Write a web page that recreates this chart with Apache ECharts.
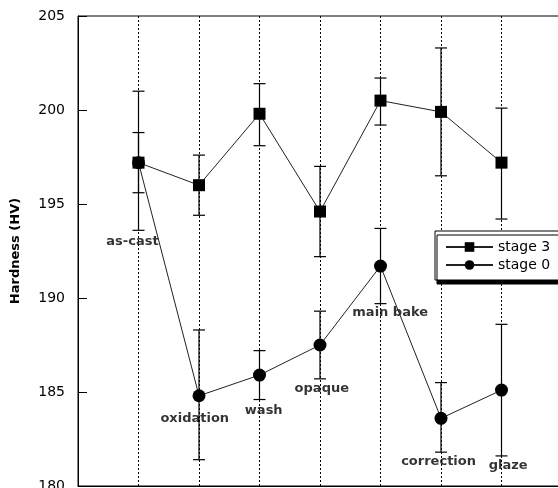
<!DOCTYPE html>
<html>
<head>
<meta charset="utf-8">
<script src="https://cdn.jsdelivr.net/npm/echarts@6/dist/echarts.min.js"></script>
<style>html,body{margin:0;padding:0;background:#fff;}#c{width:558px;height:488px;}</style>
</head>
<body>
<div id="c"></div>
<script>
const categories = ['as-cast', 'oxidation', 'wash', 'opaque', 'main bake', 'correction', 'glaze'];
const stage3 = [197.2, 196.0, 199.8, 194.6, 200.5, 199.9, 197.2];
const stage3Err = [[195.6, 198.8], [194.4, 197.6], [198.1, 201.4], [192.2, 197.0], [199.2, 201.7], [196.5, 203.3], [194.2, 200.1]];
const stage0 = [197.2, 184.8, 185.9, 187.5, 191.7, 183.6, 185.1];
const stage0Err = [[193.6, 201.0], [181.4, 188.3], [184.6, 187.2], [185.7, 189.3], [189.7, 193.7], [181.8, 185.5], [181.6, 188.6]];
const labelX = [0.90, 1.93, 3.07, 4.03, 5.16, 5.96, 7.11];
const labelY = [193.0, 183.6, 184.0, 185.2, 189.2, 181.3, 181.1];
const yTicks = [180, 185, 190, 195, 200, 205];

const FONT = 'DejaVu Sans';
const chart = echarts.init(document.getElementById('c'));

function errRender(params, api) {
  const x = api.value(0), lo = api.value(1), hi = api.value(2);
  const a = api.coord([x, hi]), b = api.coord([x, lo]);
  const w = 6;
  const st = { stroke: '#000', lineWidth: 1.2 };
  return {
    type: 'group',
    children: [
      { type: 'line', shape: { x1: a[0], y1: a[1], x2: b[0], y2: b[1] }, style: st },
      { type: 'line', shape: { x1: a[0] - w, y1: a[1], x2: a[0] + w, y2: a[1] }, style: st },
      { type: 'line', shape: { x1: b[0] - w, y1: b[1], x2: b[0] + w, y2: b[1] }, style: st }
    ]
  };
}

const option = {
  animation: false,
  backgroundColor: '#fff',
  grid: {
    left: 78, top: 16, width: 484, height: 470,
    outerBoundsMode: 'none', containLabel: false,
    show: true, borderColor: '#000', borderWidth: 1, backgroundColor: 'transparent'
  },
  xAxis: {
    type: 'value', min: 0, max: 8, interval: 1,
    axisLine: { show: true, lineStyle: { color: '#000', width: 1 } },
    axisTick: { show: false },
    axisLabel: { show: false },
    splitLine: { show: true, lineStyle: { color: '#000', type: [2, 2], width: 1 } }
  },
  yAxis: {
    type: 'value', min: yTicks[0], max: yTicks[yTicks.length - 1], interval: 5,
    name: 'Hardness (HV)', nameLocation: 'middle', nameGap: 56,
    nameTextStyle: { fontFamily: FONT, fontSize: 13, fontWeight: 'bold', color: '#000' },
    axisLine: { show: true, lineStyle: { color: '#000', width: 1 } },
    axisTick: { show: true, inside: true, length: 9, lineStyle: { color: '#000' } },
    axisLabel: { fontFamily: FONT, fontSize: 14, color: '#000', margin: 13 },
    splitLine: { show: false }
  },
  legend: {
    data: ['stage 3', 'stage 0'],
    orient: 'vertical', left: 435, top: 231,
    padding: [9, 20, 8, 10],
    itemWidth: 47, itemHeight: 12, itemGap: 4,
    backgroundColor: '#fff', borderColor: '#000', borderWidth: 1,
    shadowColor: '#000', shadowBlur: 0, shadowOffsetX: 2, shadowOffsetY: 4,
    textStyle: { fontFamily: FONT, fontSize: 14, color: '#000' },
    itemStyle: { borderWidth: 0 }
  },
  series: [
    {
      type: 'custom', name: 'err3', renderItem: errRender, z: 2,
      data: stage3Err.map((e, i) => [i + 1, e[0], e[1]])
    },
    {
      type: 'custom', name: 'err0', renderItem: errRender, z: 2,
      data: stage0Err.map((e, i) => [i + 1, e[0], e[1]])
    },
    {
      type: 'scatter', name: 'labels', z: 3, symbolSize: 1,
      itemStyle: { color: 'rgba(0,0,0,0)' },
      data: labelX.map((x, i) => [x, labelY[i]]),
      label: {
        show: true, position: 'inside', formatter: p => categories[p.dataIndex],
        fontFamily: FONT, fontSize: 13, fontWeight: 'bold', color: '#000'
      },
      silent: true
    },
    {
      type: 'line', name: 'stage 3', z: 4,
      data: stage3.map((v, i) => [i + 1, v]),
      symbol: 'rect', symbolSize: 12,
      itemStyle: { color: '#000' },
      lineStyle: { color: '#222', width: 1 }
    },
    {
      type: 'line', name: 'stage 0', z: 4,
      data: stage0.map((v, i) => [i + 1, v]),
      symbol: 'circle', symbolSize: 13,
      itemStyle: { color: '#000' },
      lineStyle: { color: '#222', width: 1 }
    }
  ]
};
chart.setOption(option);
</script>
</body>
</html>
